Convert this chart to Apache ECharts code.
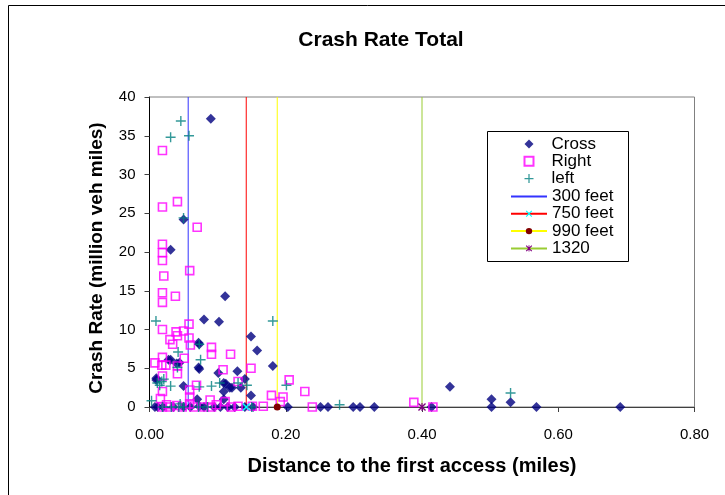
<!DOCTYPE html>
<html>
<head>
<meta charset="utf-8">
<script src="https://cdn.jsdelivr.net/npm/echarts@6/dist/echarts.min.js"></script>
<style>
  html, body { margin: 0; padding: 0; background: #fff; }
  #chart { width: 725px; height: 495px; }
</style>
</head>
<body>
<div id="chart"></div>
<script>
// Crash rate (per million vehicle miles) against distance to the first access (miles)
const crossPoints = [
  [0.090, 37.2], [0.050, 24.2], [0.031, 20.3], [0.111, 14.3], [0.080, 11.3], [0.102, 11.0],
  [0.149, 9.1], [0.072, 8.3], [0.073, 8.1], [0.158, 7.3], [0.181, 5.3], [0.028, 6.1],
  [0.031, 6.1], [0.044, 5.7], [0.040, 5.6], [0.072, 5.1], [0.073, 4.9], [0.129, 4.6],
  [0.101, 4.4], [0.010, 3.7], [0.010, 3.5], [0.140, 3.6], [0.109, 3.1], [0.112, 3.0],
  [0.050, 2.7], [0.121, 2.5], [0.134, 2.5], [0.118, 2.5], [0.109, 2.0], [0.149, 1.5],
  [0.070, 1.0], [0.109, 1.0], [0.441, 2.6], [0.502, 1.0], [0.530, 0.6],
  [0.008, 0], [0.012, 0], [0.020, 0], [0.035, 0], [0.050, 0], [0.060, 0], [0.073, 0.1],
  [0.080, 0], [0.095, 0], [0.104, 0], [0.115, 0], [0.125, 0], [0.140, 0], [0.152, 0],
  [0.203, 0], [0.251, 0], [0.262, 0], [0.299, 0], [0.309, 0], [0.330, 0], [0.414, 0],
  [0.502, 0], [0.568, 0], [0.691, 0]
];

const rightPoints = [
  [0.019, 33.1], [0.041, 26.5], [0.019, 25.8], [0.070, 23.2], [0.019, 21.0], [0.019, 19.9],
  [0.019, 18.9], [0.059, 17.6], [0.021, 16.9], [0.019, 14.75], [0.038, 14.3], [0.019, 13.5],
  [0.019, 10.0], [0.039, 9.7], [0.050, 9.8], [0.058, 10.7], [0.041, 9.2], [0.030, 8.7],
  [0.058, 8.9], [0.034, 8.1], [0.060, 8.0], [0.091, 7.7], [0.091, 6.8], [0.119, 6.8],
  [0.051, 6.3], [0.019, 6.4], [0.008, 5.7], [0.018, 5.4], [0.024, 5.4], [0.041, 5.3],
  [0.108, 4.8], [0.149, 5.0], [0.041, 4.3], [0.019, 4.0], [0.130, 3.3], [0.205, 3.5],
  [0.069, 2.8], [0.059, 2.2], [0.019, 2.0], [0.228, 2.0], [0.059, 1.3], [0.016, 1.1],
  [0.179, 1.5], [0.196, 1.3], [0.089, 0.9], [0.111, 0.7], [0.192, 0.7], [0.388, 0.6],
  [0.019, 0], [0.025, 0.3], [0.030, 0], [0.040, 0.2], [0.048, 0], [0.059, 0.4],
  [0.065, 0], [0.080, 0], [0.091, 0], [0.098, 0.3], [0.120, 0], [0.130, 0.1],
  [0.151, 0.1], [0.167, 0.1], [0.239, 0], [0.416, 0]
];

const leftPoints = [
  [0.046, 36.9], [0.031, 34.8], [0.058, 35.0], [0.050, 24.4], [0.0095, 11.1], [0.181, 11.1],
  [0.073, 8.1], [0.042, 7.1], [0.075, 6.1], [0.041, 5.1], [0.021, 3.6], [0.0115, 3.1],
  [0.018, 3.3], [0.015, 2.8], [0.031, 2.7], [0.073, 2.6], [0.091, 2.7], [0.103, 3.1],
  [0.130, 3.1], [0.143, 2.8], [0.201, 2.8], [0.530, 1.8], [0.003, 0.8], [0.279, 0.3],
  [0.045, 0.4], [0.019, 0], [0.032, 0], [0.043, 0], [0.050, 0], [0.072, 0], [0.085, 0],
  [0.150, 0]
];

// Reference distances drawn as vertical lines (miles)
const guideNames = ['300 feet', '750 feet', '990 feet', '1320'];
const guideMiles = [0.0568, 0.142, 0.1875, 0.40];
const guideTop = 40;

const xTicks = [0, 0.2, 0.4, 0.6, 0.8];
const yTicks = [0, 5, 10, 15, 20, 25, 30, 35, 40];

const FONT = 'Liberation Sans, Arial, sans-serif';
const plusPath = 'path://M4.3,0H5.7V4.3H10V5.7H5.7V10H4.3V5.7H0V4.3H4.3Z';
const xPath = 'path://M0,1.2L1.2,0L5,3.8L8.8,0L10,1.2L6.2,5L10,8.8L8.8,10L5,6.2L1.2,10L0,8.8L3.8,5Z';
const starPath = xPath + ' M4.3,0H5.7V10H4.3Z';

const guideStyles = [
  { line: '#3333FF', symbol: 'circle', symbolColor: 'rgba(0,0,0,0)', size: 0, show: false },
  { line: '#FF0000', symbol: xPath, symbolColor: '#00FFFF', size: 8, show: true },
  { line: '#FFFF00', symbol: 'circle', symbolColor: '#800000', size: 7, show: true },
  { line: '#99CC33', symbol: starPath, symbolColor: '#800080', size: 8, show: true }
];

const guideSeries = guideNames.map((name, i) => ({
  type: 'line',
  name: name,
  data: [
    { value: [guideMiles[i], 0] },
    { value: [guideMiles[i], guideTop], symbol: 'none' }
  ],
  symbol: guideStyles[i].symbol,
  symbolSize: guideStyles[i].size,
  showSymbol: guideStyles[i].show,
  itemStyle: { color: guideStyles[i].symbolColor },
  lineStyle: { color: guideStyles[i].line, width: 1 },
  emphasis: { disabled: true },
  z: 2
}));

const legendText = { fontFamily: FONT, fontSize: 17, color: '#000' };

const chart = echarts.init(document.getElementById('chart'), null, { renderer: 'canvas' });
chart.setOption({
  animation: false,
  backgroundColor: '#ffffff',
  graphic: [
    {
      type: 'rect',
      shape: { x: 8.5, y: 5.5, width: 900, height: 700 },
      style: { fill: 'none', stroke: '#000', lineWidth: 1 },
      silent: true, z: -1
    },
    {
      // legend frame
      type: 'rect', z: 3,
      shape: { x: 487.5, y: 131.5, width: 141, height: 130 },
      style: { fill: '#fff', stroke: '#000', lineWidth: 1 },
      silent: true
    }
  ],
  title: {
    text: 'Crash Rate Total',
    left: 376, top: 25, textAlign: 'center',
    textStyle: { fontFamily: FONT, fontSize: 21, fontWeight: 'bold', color: '#000' }
  },
  grid: {
    left: 149.5, right: 30.5, top: 97, bottom: 88,
    show: true, borderColor: '#808080', borderWidth: 1, backgroundColor: '#fff'
  },
  legend: [
    {
      orient: 'vertical',
      left: 523.5, top: 135.5, padding: 0,
      itemWidth: 9, itemHeight: 9, itemGap: 0.3,
      symbolKeepAspect: true,
      textStyle: Object.assign({ padding: [0, 0, 0, 13] }, legendText),
      data: ['Cross', 'Right', 'left']
    },
    {
      orient: 'vertical',
      left: 510, top: 188, padding: 0,
      itemWidth: 36, itemHeight: 8, itemGap: 0.3,
      textStyle: legendText,
      data: guideNames
    }
  ],
  xAxis: {
    type: 'value', min: 0, max: 0.8, interval: 0.2,
    name: 'Distance to the first access (miles)',
    nameLocation: 'middle', nameGap: 49,
    nameTextStyle: { fontFamily: FONT, fontSize: 20, fontWeight: 'bold', color: '#000', padding: [0, 20, 0, 0] },
    axisLine: { lineStyle: { color: '#404040', width: 1 } },
    axisTick: { show: true, inside: false, length: 5, lineStyle: { color: '#404040' } },
    axisLabel: {
      fontFamily: FONT, fontSize: 15, color: '#000', margin: 20,
      formatter: v => xTicks.includes(+v.toFixed(2)) ? v.toFixed(2) : ''
    },
    splitLine: { show: false }
  },
  yAxis: {
    type: 'value', min: 0, max: 40, interval: 5,
    name: 'Crash Rate (million veh miles)',
    nameLocation: 'middle', nameGap: 43,
    nameTextStyle: { fontFamily: FONT, fontSize: 19, fontWeight: 'bold', color: '#000', padding: [0, 12, 0, 0] },
    axisLine: { show: true, lineStyle: { color: '#000', width: 1 } },
    axisTick: { show: true, inside: false, length: 5, lineStyle: { color: '#404040' } },
    axisLabel: {
      fontFamily: FONT, fontSize: 15, color: '#000', margin: 14,
      formatter: v => yTicks.includes(v) ? String(v) : ''
    },
    splitLine: { show: false }
  },
  series: [
    {
      type: 'scatter', name: 'Cross', data: crossPoints,
      symbol: 'diamond', symbolSize: 10, symbolKeepAspect: true,
      itemStyle: { color: '#000080' }, z: 2
    },
    {
      type: 'scatter', name: 'Right', data: rightPoints,
      symbol: 'rect', symbolSize: 8, symbolKeepAspect: true,
      itemStyle: { color: 'rgba(255,255,255,0)', borderColor: '#FF00FF', borderWidth: 1.6 }, z: 2
    },
    {
      type: 'scatter', name: 'left', data: leftPoints,
      symbol: plusPath, symbolSize: 10, symbolKeepAspect: true,
      itemStyle: { color: '#008080' }, z: 2
    }
  ].concat(guideSeries)
});
</script>
</body>
</html>
